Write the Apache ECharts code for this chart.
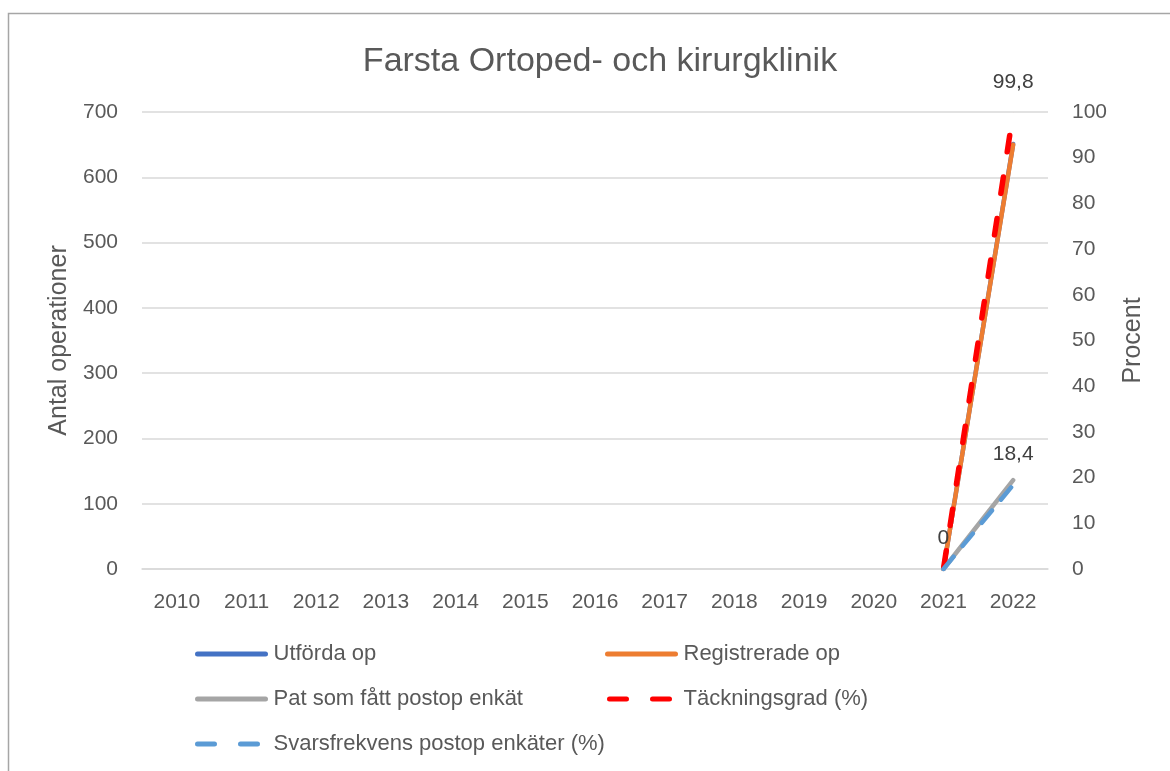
<!DOCTYPE html>
<html>
<head>
<meta charset="utf-8">
<script src="https://cdn.jsdelivr.net/npm/echarts@6/dist/echarts.min.js"></script>
<style>
  html, body { margin: 0; padding: 0; background: #fff; }
  #main { width: 1170px; height: 771px; }
</style>
</head>
<body>
<div id="main"></div>
<script>
// kategorier (år)
var years = ['2010', '2011', '2012', '2013', '2014', '2015', '2016', '2017', '2018', '2019', '2020', '2021', '2022'];
// antal operationer (vänster axel)
var utfordaOp = [null, null, null, null, null, null, null, null, null, null, null, 0, 651];
var registreradeOp = [null, null, null, null, null, null, null, null, null, null, null, 0, 650];
var patEnkat = [null, null, null, null, null, null, null, null, null, null, null, 0, 136];
// procent (höger axel)
var tackningsgrad = [null, null, null, null, null, null, null, null, null, null, null, 0, 99.8];
var svarsfrekvens = [null, null, null, null, null, null, null, null, null, null, null, 0, 18.4];
// vilka punkter som får etikett
var tackLabels = [11, 12];
var svarLabels = [12];

var font = '"Liberation Sans", Arial, sans-serif';
var textColor = '#595959';

function withLabels(values, idxs) {
  return values.map(function (v, i) {
    if (idxs.indexOf(i) >= 0) {
      return { value: v, label: { show: true } };
    }
    return v;
  });
}

// en legend per post, så att varje kan placeras fritt
function legendItem(name, left, top, dash) {
  var ls = { width: 5, cap: 'round' };
  if (dash) ls.type = dash;
  return {
    data: [name],
    left: left,
    top: top,
    itemWidth: 68,
    itemHeight: 20,
    itemGap: 0,
    itemStyle: { opacity: 0 },
    lineStyle: ls,
    textStyle: { fontSize: 22, color: textColor, fontFamily: font, padding: [0, 0, 0, 3] }
  };
}

var chart = echarts.init(document.getElementById('main'));

var pctLabel = {
  show: false,
  position: 'top',
  distance: 20,
  fontSize: 21,
  fontFamily: font,
  color: '#404040',
  formatter: function (p) { return String(p.value).replace('.', ','); }
};

var option = {
  backgroundColor: '#fff',
  textStyle: { fontFamily: font },
  title: {
    text: 'Farsta Ortoped- och kirurgklinik',
    left: 595,
    textAlign: 'center',
    top: 40,
    textStyle: { fontSize: 34, fontWeight: 'normal', color: textColor, fontFamily: font }
  },
  graphic: [{
    type: 'rect',
    shape: { x: 8.5, y: 13.5, width: 1300, height: 900 },
    style: { fill: 'none', stroke: '#a6a6a6', lineWidth: 1.5 },
    silent: true
  }],
  legend: [
    legendItem('Utförda op', 190, 638, null),
    legendItem('Pat som fått postop enkät', 190, 683, null),
    legendItem('Svarsfrekvens postop enkäter (%)', 190, 728, [17, 26]),
    legendItem('Registrerade op', 600, 638, null),
    legendItem('Täckningsgrad (%)', 600, 683, [17, 26])
  ],
  grid: { left: 142, right: 122, top: 112, bottom: 202 },
  xAxis: {
    type: 'category',
    data: years,
    boundaryGap: true,
    axisLine: { lineStyle: { color: '#d9d9d9', width: 1.5 } },
    axisTick: { show: false },
    axisLabel: { fontSize: 21, color: textColor, margin: 23, fontFamily: font }
  },
  yAxis: [{
    type: 'value',
    min: 0, max: 700, interval: 100,
    name: 'Antal operationer',
    nameLocation: 'middle',
    nameRotate: 90,
    nameGap: 64,
    nameTextStyle: { fontSize: 25, color: textColor, fontFamily: font },
    axisLine: { show: false },
    axisTick: { show: false },
    axisLabel: { fontSize: 21, color: textColor, margin: 24, fontFamily: font },
    splitLine: { lineStyle: { color: '#d9d9d9', width: 1.5 } }
  }, {
    type: 'value',
    min: 0, max: 100, interval: 10,
    name: 'Procent',
    nameLocation: 'middle',
    nameRotate: 90,
    nameGap: 73,
    nameTextStyle: { fontSize: 25, color: textColor, fontFamily: font },
    axisLine: { show: false },
    axisTick: { show: false },
    axisLabel: { fontSize: 21, color: textColor, margin: 24, fontFamily: font },
    splitLine: { show: false }
  }],
  series: [{
    name: 'Utförda op',
    type: 'line',
    yAxisIndex: 0,
    data: utfordaOp,
    symbol: 'none',
    color: '#4472c4',
    lineStyle: { width: 4.5, cap: 'round' }
  }, {
    name: 'Registrerade op',
    type: 'line',
    yAxisIndex: 0,
    data: registreradeOp,
    symbol: 'none',
    color: '#ed7d31',
    lineStyle: { width: 4.5, cap: 'round' }
  }, {
    name: 'Pat som fått postop enkät',
    type: 'line',
    yAxisIndex: 0,
    data: patEnkat,
    symbol: 'none',
    color: '#a5a5a5',
    lineStyle: { width: 4.5, cap: 'round' }
  }, {
    name: 'Täckningsgrad (%)',
    type: 'line',
    yAxisIndex: 1,
    data: withLabels(tackningsgrad, tackLabels),
    symbol: 'circle',
    symbolSize: 0.1,
    showSymbol: true,
    color: '#ff0000',
    lineStyle: { width: 5.5, type: [16.5, 25.5], dashOffset: -2, cap: 'round' },
    label: pctLabel
  }, {
    name: 'Svarsfrekvens postop enkäter (%)',
    type: 'line',
    yAxisIndex: 1,
    data: withLabels(svarsfrekvens, svarLabels),
    symbol: 'circle',
    symbolSize: 0.1,
    showSymbol: true,
    color: '#5b9bd5',
    lineStyle: { width: 4.5, type: [16, 14], cap: 'round' },
    label: pctLabel
  }]
};

chart.setOption(option);
</script>
</body>
</html>
